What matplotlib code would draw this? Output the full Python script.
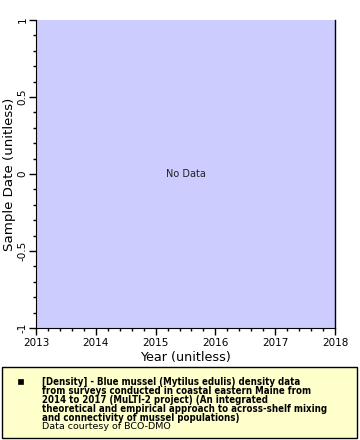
import matplotlib
matplotlib.use("Agg")
import matplotlib.pyplot as plt
from matplotlib.ticker import MultipleLocator
from matplotlib.patches import Rectangle

x_range = [2013, 2018]
y_range = [-1, 1]
x_ticks = [2013, 2014, 2015, 2016, 2017, 2018]
y_ticks = [-1, -0.5, 0, 0.5, 1]
y_tick_labels = ["-1", "-0.5", "0", "0.5", "1"]
x_label = "Year (unitless)"
y_label = "Sample Date (unitless)"
no_data_text = "No Data"
legend_lines = ["[Density] - Blue mussel (Mytilus edulis) density data",
                "from surveys conducted in coastal eastern Maine from",
                "2014 to 2017 (MuLTI-2 project) (An integrated",
                "theoretical and empirical approach to across-shelf mixing",
                "and connectivity of mussel populations)"]
legend_credit = "Data courtesy of BCO-DMO"

W, H = 360, 440
fig = plt.figure(figsize=(W / 100, H / 100), dpi=100)
ax = fig.add_axes([36 / W, 1 - 328 / H, (335 - 36) / W, (328 - 20) / H])
ax.set_facecolor("#CCCCFF")
ax.set_xlim(*x_range)
ax.set_ylim(*y_range)
ax.set_xticks(x_ticks)
ax.set_xticklabels([str(t) for t in x_ticks])
ax.set_yticks(y_ticks)
ax.set_yticklabels(y_tick_labels, rotation=90, va="center")
ax.xaxis.set_minor_locator(MultipleLocator(0.2))
ax.yaxis.set_minor_locator(MultipleLocator(0.1))
ax.tick_params(which="major", direction="out", length=5, width=1, labelsize=7.5, pad=2)
ax.tick_params(axis="y", which="major", pad=1)
ax.tick_params(which="minor", direction="out", length=2.5, width=1)
ax.spines["top"].set_visible(False)
ax.spines["right"].set_linewidth(1)
for s in ["left", "bottom", "right"]:
    ax.spines[s].set_color("black")
ax.set_xlabel(x_label, fontsize=9.2, labelpad=2)
ax.set_ylabel(y_label, fontsize=9.6)
ax.yaxis.set_label_coords(-0.066, 0.5)
ax.text(0.5, 0.5, no_data_text, transform=ax.transAxes, ha="center", va="center",
        fontsize=7, color="#222222")

# legend box
fig.patches.append(Rectangle((2 / W, 1 - 438 / H), (357 - 2) / W, (438 - 367) / H,
                             transform=fig.transFigure, facecolor="#FFFFCC",
                             edgecolor="black", linewidth=1))
fig.patches.append(Rectangle((18 / W, 1 - 384 / H), 5 / W, 5 / H,
                             transform=fig.transFigure, facecolor="black",
                             edgecolor="black", linewidth=0.5))
for i, line in enumerate(legend_lines):
    fig.text(42 / W, 1 - (385 + 8.9 * i) / H, line, fontsize=6.9, fontweight="bold",
             fontstretch="condensed", va="baseline", ha="left")
fig.text(42 / W, 1 - 429 / H, legend_credit, fontsize=6.8,
         va="baseline", ha="left")

fig.savefig("out.png", dpi=100)
